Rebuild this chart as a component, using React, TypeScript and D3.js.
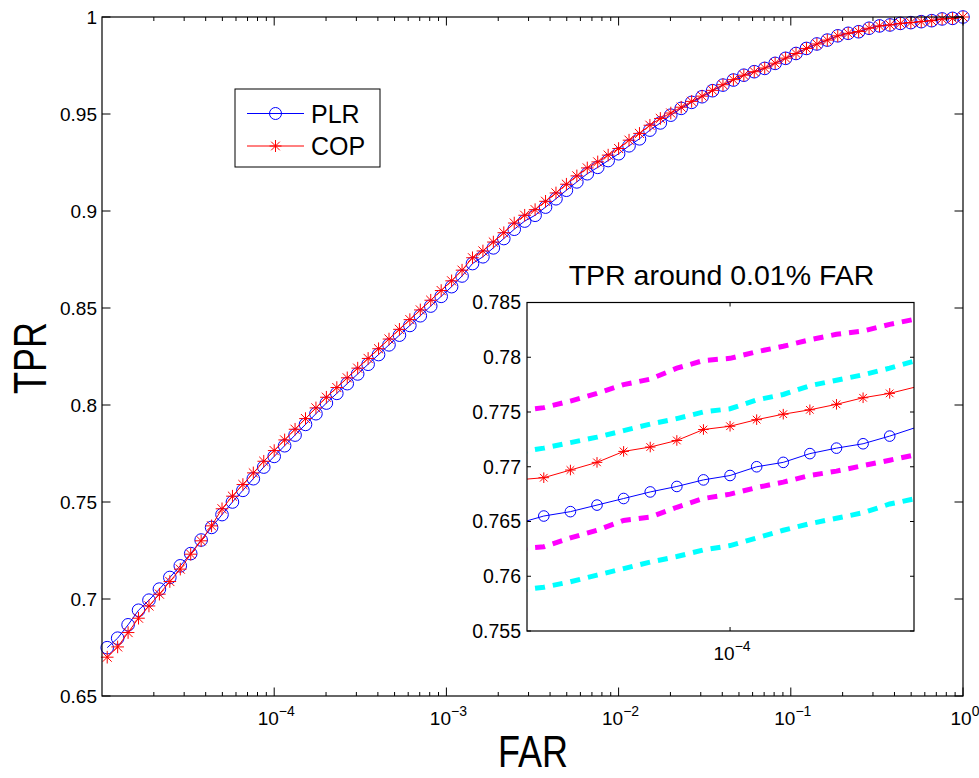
import React from "react";
import * as d3 from "d3";

// ---------- data ----------
// main curve: points on a uniform log grid, index k = 82..0, FAR = 10^(-k*2/33)
const mainStepCount = 82;
const plrValues = [
  0.6749, 0.6798, 0.6867, 0.6942, 0.6994, 0.7051, 0.7111, 0.7171, 0.7234, 0.7304, 0.7369,
  0.7435, 0.750, 0.756, 0.762, 0.768, 0.7735, 0.779, 0.7845, 0.790, 0.7955, 0.801, 0.806,
  0.811, 0.816, 0.821, 0.826, 0.831, 0.836, 0.841, 0.846, 0.851, 0.856, 0.861, 0.8665,
  0.8729, 0.8764, 0.8810, 0.8858, 0.8906, 0.8948, 0.8978, 0.9020, 0.9063, 0.9107, 0.9150,
  0.9192, 0.9225, 0.9260, 0.9295, 0.9336, 0.9372,
  0.9417, 0.9454, 0.9494, 0.9529, 0.9560, 0.9589, 0.9620, 0.9649, 0.9675, 0.9700, 0.9718,
  0.9735, 0.9761, 0.9787, 0.9812, 0.9838, 0.9861, 0.9881, 0.9903, 0.9916, 0.9924, 0.9942,
  0.9954, 0.9959, 0.9967, 0.9971, 0.9976, 0.9981, 0.9990, 0.9993, 1.0,
];
const copValues = [
  0.6700, 0.6753, 0.6827, 0.6901, 0.6964, 0.7025, 0.7090, 0.7154, 0.7231, 0.7300, 0.7377,
  0.7465, 0.753, 0.759, 0.765, 0.771, 0.7765, 0.782, 0.7875, 0.793, 0.7985, 0.804, 0.809,
  0.814, 0.819, 0.824, 0.829, 0.834, 0.839, 0.844, 0.849, 0.854, 0.859, 0.864, 0.8695,
  0.8759, 0.8794, 0.8840, 0.8888, 0.8938, 0.8978, 0.9007, 0.9050, 0.9093, 0.9138, 0.9181,
  0.9222, 0.9253, 0.9288, 0.9322, 0.9365, 0.9400, 0.9442, 0.9477,
  0.9505, 0.9535, 0.9565, 0.9592, 0.9622, 0.9651, 0.9677, 0.9700, 0.9718, 0.9737, 0.9762,
  0.9788, 0.9812, 0.9838, 0.9861, 0.9881, 0.9903, 0.9916, 0.9925, 0.9942, 0.9954, 0.9959,
  0.9967, 0.9971, 0.9976, 0.9981, 0.9990, 0.9993, 1.0,
];
const mainYTicks = [0.65, 0.7, 0.75, 0.8, 0.85, 0.9, 0.95, 1];
const mainYTickLabels = ["0.65", "0.7", "0.75", "0.8", "0.85", "0.9", "0.95", "1"];
const mainXTickExps = [-4, -3, -2, -1, 0];

// inset: grid index j = -8..7, FAR = 10^(-4 + j*2/33)
const insetJ = [-8, -7, -6, -5, -4, -3, -2, -1, 0, 1, 2, 3, 4, 5, 6, 7];
const insetPLR = [0.7648, 0.7655, 0.7659, 0.7665, 0.7671, 0.7677, 0.7682, 0.7688, 0.7692, 0.7700, 0.7704, 0.7712, 0.7717, 0.7721, 0.7728, 0.7736];
const insetCOP = [0.7688, 0.7690, 0.7697, 0.7704, 0.7714, 0.7718, 0.7724, 0.7734, 0.7737, 0.7743, 0.7748, 0.7752, 0.7757, 0.7763, 0.7767, 0.7773];
const insetCOPUpper = [0.7751, 0.7754, 0.7760, 0.7767, 0.7775, 0.7780, 0.7790, 0.7797, 0.7799, 0.7805, 0.7810, 0.7816, 0.7821, 0.7824, 0.7830, 0.7835];
const insetPLRUpper = [0.7713, 0.7717, 0.7722, 0.7727, 0.7733, 0.7739, 0.7744, 0.7750, 0.7753, 0.7761, 0.7766, 0.7774, 0.7779, 0.7784, 0.7790, 0.7797];
const insetCOPLower = [0.7625, 0.7627, 0.7635, 0.7642, 0.7651, 0.7654, 0.7663, 0.7671, 0.7675, 0.7681, 0.7686, 0.7692, 0.7696, 0.7701, 0.7706, 0.7711];
const insetPLRLower = [0.7587, 0.7590, 0.7595, 0.7601, 0.7607, 0.7613, 0.7618, 0.7624, 0.7628, 0.7635, 0.7642, 0.7648, 0.7653, 0.7658, 0.7666, 0.7671];
const insetYTicks = [0.755, 0.76, 0.765, 0.77, 0.775, 0.78, 0.785];
const insetYTickLabels = ["0.755", "0.76", "0.765", "0.77", "0.775", "0.78", "0.785"];

const legendNames = ["PLR", "COP"];
const FONT = "'Liberation Sans', Arial, Helvetica, sans-serif";

// ---------- helpers ----------
const starPath = (x: number, y: number, r: number) => {
  const d = r * 0.72;
  return `M${x - r},${y}L${x + r},${y}M${x},${y - r}L${x},${y + r}M${x - d},${y - d}L${x + d},${y + d}M${x - d},${y + d}L${x + d},${y - d}`;
};

function Pow10({ x, y, exp, size, supSize }: { x: number; y: number; exp: number; size: number; supSize: number }) {
  return (
    <text x={x} y={y} textAnchor="middle" fontFamily={FONT} fontSize={size} fill="#000">
      10
      <tspan dy={-size * 0.45} fontSize={supSize}>{exp < 0 ? "\u2212" + Math.abs(exp) : String(exp)}</tspan>
    </text>
  );
}

export default function App() {
  // main axes
  const L = 102, T = 17, R = 963, B = 696;
  const x = d3.scaleLog().domain([1e-5, 1]).range([L, R]);
  const y = d3.scaleLinear().domain([0.65, 1]).range([B, T]);
  const farMain = copValues.map((_, i) => Math.pow(10, -(mainStepCount - i) * 2 / 33));
  const plrPts = plrValues.map((v, i) => [x(farMain[i]), y(v)] as [number, number]);
  const copPts = copValues.map((v, i) => [x(farMain[i]), y(v)] as [number, number]);
  const line = d3.line();

  const minorTicks: number[] = [];
  for (let e = -5; e < 0; e++) for (let m = 2; m <= 9; m++) minorTicks.push(m * Math.pow(10, e));

  // inset axes
  const iL = 527, iT = 302.5, iR = 914, iB = 631;
  const ix = d3.scaleLog().domain([Math.pow(10, -4.4625), Math.pow(10, -3.581)]).range([iL, iR]);
  const iy = d3.scaleLinear().domain([0.755, 0.785]).range([iB, iT]);
  const farInset = insetJ.map((j) => Math.pow(10, -4 + (j * 2) / 33));
  const ipts = (arr: number[]) => arr.map((v, i) => [ix(farInset[i]), iy(v)] as [number, number]);

  const majorLen = 8.5, minorLen = 4, insetLen = 4;

  return (
    <svg width={979} height={778} style={{ position: "absolute", left: 0, top: 0, background: "#fff" }}>
      <rect x={0} y={0} width={979} height={778} fill="#fff" />
      <defs>
        <clipPath id="insetClip">
          <rect x={iL} y={iT} width={iR - iL} height={iB - iT} />
        </clipPath>
      </defs>

      {/* main curves */}
      <path d={line(plrPts) || ""} fill="none" stroke="#0000ff" strokeWidth={1} />
      {plrPts.map((p, i) => (
        <circle key={"pc" + i} cx={p[0]} cy={p[1]} r={6.3} fill="none" stroke="#0000ff" strokeWidth={1} />
      ))}
      <path d={line(copPts) || ""} fill="none" stroke="#ff0000" strokeWidth={1} />
      {copPts.map((p, i) => (
        <path key={"cs" + i} d={starPath(p[0], p[1], 6.3)} stroke="#ff0000" strokeWidth={1} fill="none" />
      ))}

      {/* main box */}
      <rect x={L} y={T} width={R - L} height={B - T} fill="none" stroke="#000" strokeWidth={1.2} />
      {/* y ticks */}
      {mainYTicks.map((t, i) => (
        <g key={"yt" + i}>
          <line x1={L} x2={L + majorLen} y1={y(t)} y2={y(t)} stroke="#000" />
          <line x1={R} x2={R - majorLen} y1={y(t)} y2={y(t)} stroke="#000" />
          <text x={L - 5} y={y(t)} dy="0.35em" textAnchor="end" fontFamily={FONT} fontSize={19}>
            {mainYTickLabels[i]}
          </text>
        </g>
      ))}
      {/* x ticks */}
      {mainXTickExps.map((e) => (
        <g key={"xt" + e}>
          <line x1={x(Math.pow(10, e))} x2={x(Math.pow(10, e))} y1={B} y2={B - majorLen} stroke="#000" />
          <line x1={x(Math.pow(10, e))} x2={x(Math.pow(10, e))} y1={T} y2={T + majorLen} stroke="#000" />
          <Pow10 x={x(Math.pow(10, e)) + 2} y={725} exp={e} size={19} supSize={14} />
        </g>
      ))}
      {minorTicks.map((t, i) => (
        <g key={"mt" + i}>
          <line x1={x(t)} x2={x(t)} y1={B} y2={B - minorLen} stroke="#000" />
          <line x1={x(t)} x2={x(t)} y1={T} y2={T + minorLen} stroke="#000" />
        </g>
      ))}

      {/* axis labels */}
      <text x={0} y={0} textAnchor="middle" fontFamily={FONT} fontSize={36} transform="translate(533,767) scale(1,1.25)">
        FAR
      </text>
      <text x={0} y={0} textAnchor="middle" fontFamily={FONT} fontSize={36} transform="translate(46,358) rotate(-90) scale(1,1.3)">
        TPR
      </text>

      {/* legend */}
      <rect x={235} y={89} width={145} height={78} fill="#fff" stroke="#000" strokeWidth={1} />
      <line x1={247} x2={304} y1={113.5} y2={113.5} stroke="#0000ff" />
      <circle cx={275.5} cy={113.5} r={6} fill="none" stroke="#0000ff" />
      <text x={311} y={113.5} dy="0.36em" fontFamily={FONT} fontSize={25}>{legendNames[0]}</text>
      <line x1={247} x2={304} y1={146} y2={146} stroke="#ff0000" />
      <path d={starPath(275.5, 146, 6)} stroke="#ff0000" fill="none" />
      <text x={311} y={146} dy="0.36em" fontFamily={FONT} fontSize={25}>{legendNames[1]}</text>

      {/* inset */}
      <rect x={iL} y={iT} width={iR - iL} height={iB - iT} fill="#fff" />
      <g clipPath="url(#insetClip)">
        <path d={line(ipts(insetCOPUpper)) || ""} fill="none" stroke="#ff00ff" strokeWidth={5} strokeDasharray="10 8" />
        <path d={line(ipts(insetPLRUpper)) || ""} fill="none" stroke="#00ffff" strokeWidth={5} strokeDasharray="10 8" />
        <path d={line(ipts(insetCOPLower)) || ""} fill="none" stroke="#ff00ff" strokeWidth={5} strokeDasharray="10 8" />
        <path d={line(ipts(insetPLRLower)) || ""} fill="none" stroke="#00ffff" strokeWidth={5} strokeDasharray="10 8" />
        <path d={line(ipts(insetPLR)) || ""} fill="none" stroke="#0000ff" strokeWidth={1} />
        <path d={line(ipts(insetCOP)) || ""} fill="none" stroke="#ff0000" strokeWidth={1} />
      </g>
      {ipts(insetPLR).map((p, i) =>
        p[0] > iL + 3 && p[0] < iR - 3 ? (
          <circle key={"ic" + i} cx={p[0]} cy={p[1]} r={5.3} fill="none" stroke="#0000ff" strokeWidth={1} />
        ) : null
      )}
      {ipts(insetCOP).map((p, i) =>
        p[0] > iL + 3 && p[0] < iR - 3 ? (
          <path key={"is" + i} d={starPath(p[0], p[1], 5.3)} stroke="#ff0000" strokeWidth={1} fill="none" />
        ) : null
      )}
      <rect x={iL} y={iT} width={iR - iL} height={iB - iT} fill="none" stroke="#000" strokeWidth={1.2} />
      {insetYTicks.map((t, i) => (
        <g key={"iyt" + i}>
          <line x1={iL} x2={iL + insetLen} y1={iy(t)} y2={iy(t)} stroke="#000" />
          <line x1={iR} x2={iR - insetLen} y1={iy(t)} y2={iy(t)} stroke="#000" />
          <text x={iL - 6} y={iy(t)} dy="0.35em" textAnchor="end" fontFamily={FONT} fontSize={19.5}>
            {insetYTickLabels[i]}
          </text>
        </g>
      ))}
      <line x1={ix(1e-4)} x2={ix(1e-4)} y1={iB} y2={iB - insetLen} stroke="#000" />
      <line x1={ix(1e-4)} x2={ix(1e-4)} y1={iT} y2={iT + insetLen} stroke="#000" />
      <Pow10 x={ix(1e-4) + 2} y={660} exp={-4} size={19} supSize={14} />
      <text x={721.5} y={285} textAnchor="middle" fontFamily={FONT} fontSize={28.5}>
        TPR around 0.01% FAR
      </text>
    </svg>
  );
}
